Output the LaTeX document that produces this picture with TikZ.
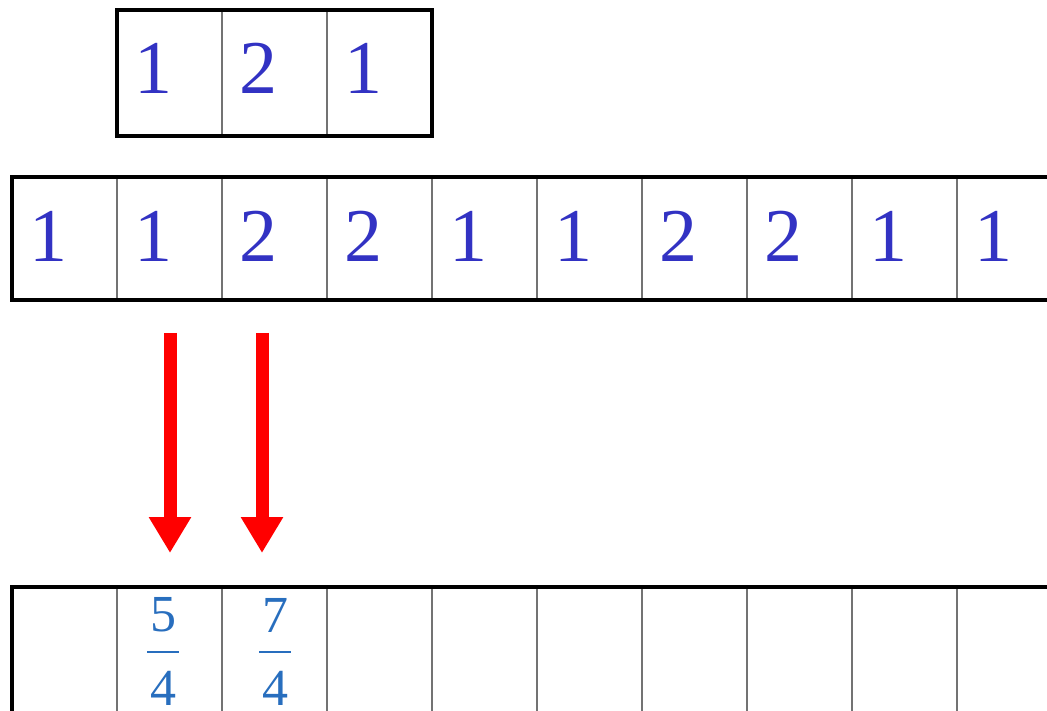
\documentclass[tikz,border=0pt]{standalone}
\usepackage{fontspec}
\setmainfont{Liberation Serif}
\usetikzlibrary{arrows.meta}
\definecolor{digitblue}{RGB}{50,50,195}
\definecolor{fracblue}{RGB}{40,110,190}
\definecolor{divgray}{RGB}{115,115,115}
\tikzset{
  cell/.style={draw=divgray, line width=2.5pt, minimum width=105pt, minimum height=#1, inner sep=0pt, outer sep=0pt},
  frame/.style={draw=black, line width=4pt},
  digit/.style={anchor=base west, inner sep=0pt, text=digitblue, font=\fontsize{76}{80}\selectfont},
  fracnum/.style={anchor=base, inner sep=0pt, text=fracblue, font=\fontsize{52}{56}\selectfont},
  bigarrow/.style={draw=red, line width=13pt, -{Triangle[length=36pt,width=40pt]}}
}
\newcommand{\myfrac}[2]{\vbox{\offinterlineskip
  \hbox to 32pt{\hss#1\hss}\kern19pt\hrule height 2pt\kern17pt
  \hbox to 32pt{\hss\vrule width 0pt height 35pt#2\hss}}}
\begin{document}
\begin{tikzpicture}[x=1pt,y=-1pt]
\useasboundingbox (0,0) rectangle (1047,711);
\clip (0,0) rectangle (1047,711);
\fill[white] (0,0) rectangle (1047,711);
% kernel
\foreach \i/\v in {0/1,1/2,2/1}{
  \node[cell=126pt] (k\i) at ({169.5+105*\i},73) {};
  \node[digit] (kt\i) at ({134+105*\i},94) {\v};
}
\draw[frame] (k0.north west) rectangle (k2.south east);
% input row
\foreach \i/\v in {0/1,1/1,2/2,3/2,4/1,5/1,6/2,7/2,8/1,9/1}{
  \node[cell=123pt] (m\i) at ({64.5+105*\i},238.5) {};
  \node[digit] (mt\i) at ({29+105*\i},262) {\v};
}
\draw[frame] (m0.north west) rectangle (m9.south east);
% output row
\foreach \i in {0,...,9}{
  \node[cell=140pt] (b\i) at ({64.5+105*\i},657) {};
}
\draw[frame] (b0.north west) rectangle (b9.south east);
\node[fracnum] (f1) at (163,705) {\myfrac{5}{4}};
\node[fracnum] (f2) at (275,705) {\myfrac{7}{4}};
% arrows
\coordinate (a1s) at (170,333);
\coordinate (a1e) at (170,553);
\coordinate (a2s) at (262,333);
\coordinate (a2e) at (262,553);
\draw[bigarrow] (a1s) -- (a1e);
\draw[bigarrow] (a2s) -- (a2e);
\end{tikzpicture}
\end{document}
